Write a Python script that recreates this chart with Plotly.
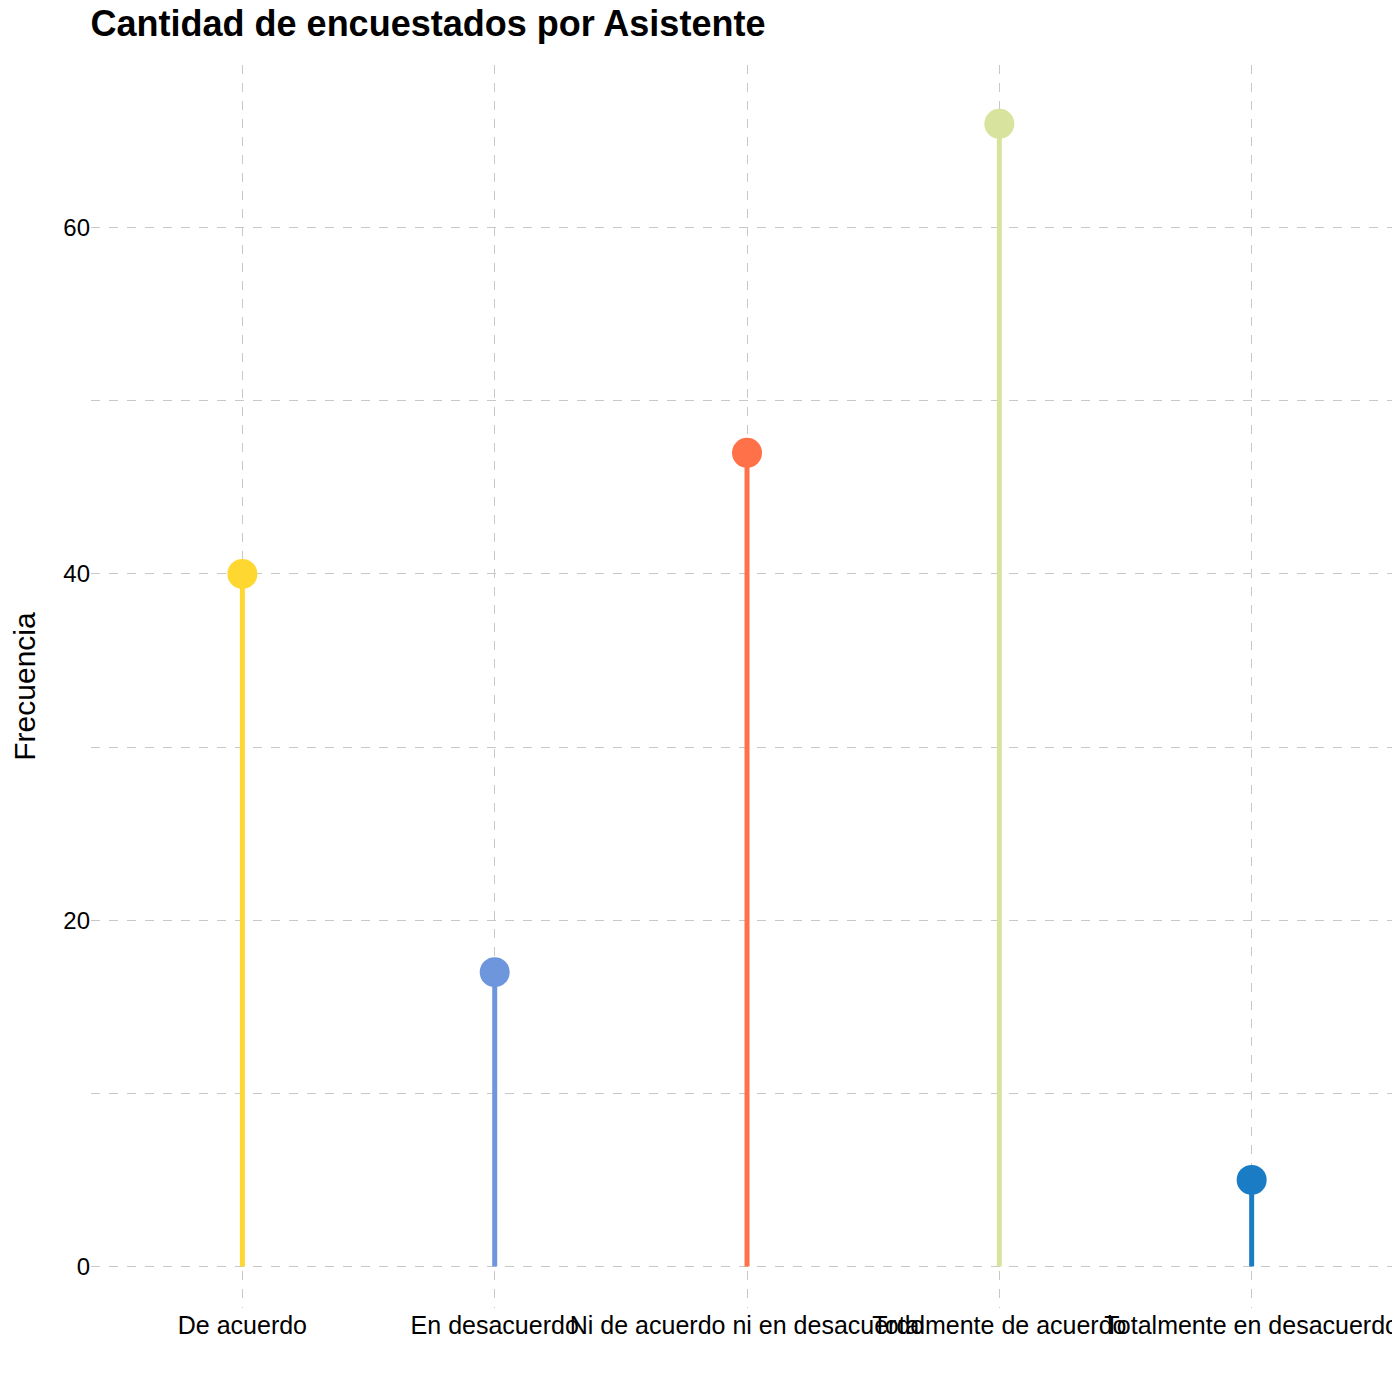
import plotly.graph_objects as go

categories = ["De acuerdo", "En desacuerdo", "Ni de acuerdo ni en desacuerdo",
              "Totalmente de acuerdo", "Totalmente en desacuerdo"]
values = [40, 17, 47, 66, 5]
colors = ["#FFD731", "#6E96DC", "#FF7148", "#D8E39E", "#1A7CC4"]

fig = go.Figure()
for i, (c, v, col) in enumerate(zip(categories, values, colors)):
    fig.add_trace(go.Scatter(x=[i, i], y=[0, v], mode="lines",
                             line=dict(color=col, width=5), showlegend=False, hoverinfo="skip"))
fig.add_trace(go.Scatter(x=list(range(len(categories))), y=values, mode="markers",
                         marker=dict(color=colors, size=30), showlegend=False))

grid = dict(showgrid=True, gridcolor="#C8C8C8", griddash="dash", gridwidth=1, zeroline=False)
fig.update_layout(
    width=1400, height=1400, plot_bgcolor="white", paper_bgcolor="white",
    margin=dict(l=83, r=10, t=57, b=100, autoexpand=False),
    font=dict(family="Arial, Liberation Sans", size=24, color="black"),
    title=dict(text="<b>Cantidad de encuestados por Asistente</b>", x=0.059, xanchor="left",
               y=0.998, yanchor="top", pad=dict(l=0, t=0),
               font=dict(size=36, color="black")),
    xaxis=dict(range=[-0.6, 4.58], tickvals=list(range(5)), ticktext=categories,
               ticks="", tickangle=0, automargin=False, tickfont=dict(size=25), **grid),
    yaxis=dict(range=[-2.4, 69.4], tickvals=[0, 20, 40, 60], ticks="", ticklen=0,
               automargin=False, tickfont=dict(size=24),
               title=dict(text="Frecuencia", font=dict(size=30), standoff=20),
               minor=dict(tickvals=[10, 30, 50], showgrid=True, gridcolor="#C8C8C8", griddash="dash"),
               **grid),
)
fig.write_html("out.html")
